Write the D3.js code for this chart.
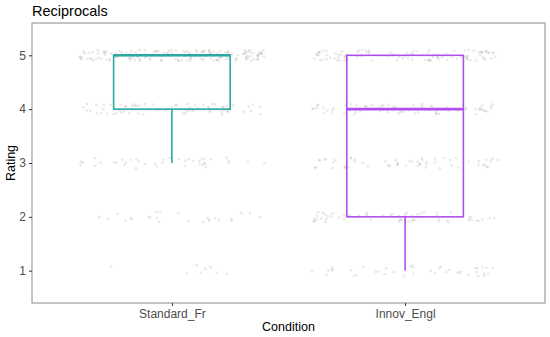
<!DOCTYPE html>
<html><head><meta charset="utf-8">
<script src="https://cdn.jsdelivr.net/npm/d3@7"></script>
<style>body{margin:0;background:#fff}svg{display:block;font-family:"Liberation Sans",Arial,sans-serif}</style>
</head><body><svg id="c" width="550" height="337"></svg>
<script>
const title = "Reciprocals";
const categories = ["Standard_Fr", "Innov_Engl"];
const ratings = [1, 2, 3, 4, 5];
const countsStandard = [8, 25, 40, 75, 170];
const countsInnov = [40, 60, 60, 80, 100];
const yTicks = [1, 2, 3, 4, 5];
const colors = ["#2aa9a3", "#b04ff0"];

const counts = [countsStandard, countsInnov];
// deterministic jitter (seeded LCG) for placement only
let seed = 12345;
function rnd(){ seed = (seed * 1103515245 + 12345) % 2147483648; return seed / 2147483648; }

const data = [];
categories.forEach((c, ci) => {
  ratings.forEach((r, ri) => {
    for (let k = 0; k < counts[ci][ri]; k++) {
      data.push({cat: c, rating: r, jx: (rnd() - 0.5) * 0.8, jy: (rnd() - 0.5) * 0.2});
    }
  });
});

const svg = d3.select("#c");
const L = 32, R = 545, T = 23, B = 303;
// ggplot-like discrete expansion: positions at 0.6 and 1.6 of 2.2
const xs = d3.scaleLinear().domain([0.4, 2.6]).range([L, R]);
const xpos = c => xs(categories.indexOf(c) + 1);
const y = d3.scaleLinear().domain([0.4, 5.6]).range([B, T]);

// points
svg.append("g").selectAll("circle").data(data).join("circle")
  .attr("cx", d => xpos(d.cat) + (xs(1 + d.jx) - xs(1)))
  .attr("cy", d => y(d.rating + d.jy))
  .attr("r", 1.3)
  .attr("fill", "#8c8c8c")
  .attr("fill-opacity", 0.2);

// boxplots
const bw = 0.5;
categories.forEach((c, ci) => {
  const vals = data.filter(d => d.cat === c).map(d => d.rating).sort(d3.ascending);
  const q1 = d3.quantile(vals, 0.25), med = d3.quantile(vals, 0.5), q3 = d3.quantile(vals, 0.75);
  const iqr = q3 - q1;
  const lo = d3.min(vals.filter(v => v >= q1 - 1.5 * iqr));
  const hi = d3.max(vals.filter(v => v <= q3 + 1.5 * iqr));
  const cx = xpos(c);
  const x0 = xs(ci + 1 - bw / 2), x1 = xs(ci + 1 + bw / 2);
  const g = svg.append("g").attr("stroke", colors[ci]).attr("fill", "none");
  g.append("line").attr("x1", cx).attr("x2", cx).attr("y1", y(q1)).attr("y2", y(lo)).attr("stroke-width", 1.6);
  g.append("line").attr("x1", cx).attr("x2", cx).attr("y1", y(q3)).attr("y2", y(hi)).attr("stroke-width", 1.6);
  g.append("rect").attr("x", x0).attr("y", y(q3)).attr("width", x1 - x0).attr("height", y(q1) - y(q3)).attr("stroke-width", 1.6);
  g.append("line").attr("x1", x0).attr("x2", x1).attr("y1", y(med)).attr("y2", y(med)).attr("stroke-width", 2.6);
});

// panel border
svg.append("rect").attr("x", L).attr("y", T).attr("width", R - L).attr("height", B - T)
  .attr("fill", "none").attr("stroke", "#8a8a8a").attr("stroke-width", 1);

// axes
const yAxis = svg.append("g").attr("transform", `translate(${L},0)`)
  .call(d3.axisLeft(y).tickValues(yTicks).tickFormat(d3.format("d")).tickSize(3).tickPadding(3));
const xAxis = svg.append("g").attr("transform", `translate(0,${B})`)
  .call(d3.axisBottom(xs).tickValues([1, 2]).tickFormat(d => categories[d - 1]).tickSize(3).tickPadding(3));
[yAxis, xAxis].forEach(a => {
  a.select(".domain").remove();
  a.selectAll(".tick line").attr("stroke", "#333");
  a.selectAll(".tick text").attr("fill", "#4d4d4d").style("font-size", "12px");
});

svg.append("text").attr("x", L).attr("y", 16).attr("fill", "#000").style("font-size", "14.5px").text(title);
svg.append("text").attr("x", (L + R) / 2).attr("y", 331).attr("text-anchor", "middle").attr("fill", "#000").style("font-size", "12.5px").text("Condition");
svg.append("text").attr("transform", `translate(15,${(T + B) / 2}) rotate(-90)`).attr("text-anchor", "middle").attr("fill", "#000").style("font-size", "12.5px").text("Rating");
</script></body></html>
